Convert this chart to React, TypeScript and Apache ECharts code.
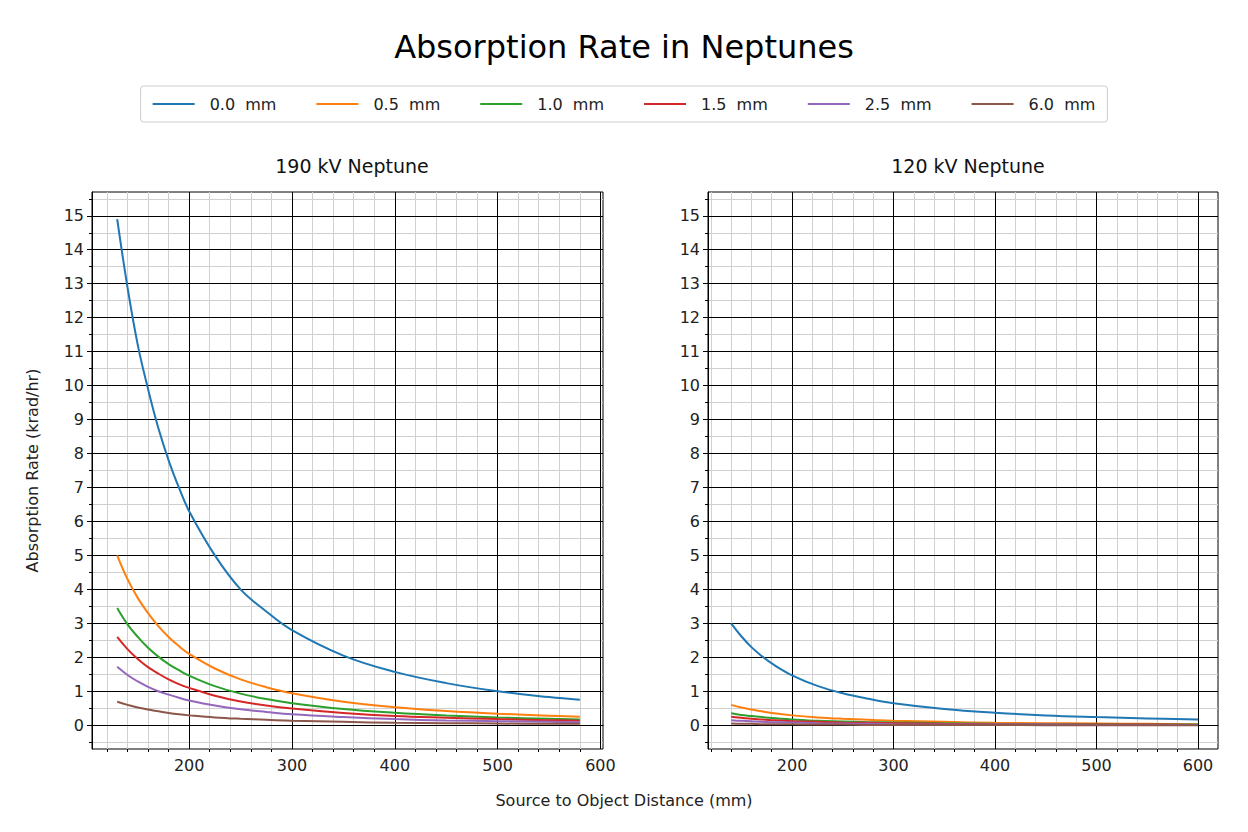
import React, { useEffect, useRef } from "react";
import * as echarts from "echarts";

const names = ["0.0  mm", "0.5  mm", "1.0  mm", "1.5  mm", "2.5  mm", "6.0  mm"];
const colors = ["#1f77b4", "#ff7f0e", "#2ca02c", "#d62728", "#9467bd", "#8c564b"];

const xLeft = [130, 140, 150, 160, 170, 180, 190, 200, 225, 250, 275, 300, 350, 400, 450, 500, 550, 580];
const left00 = [14.9, 12.9, 11.2, 9.9, 8.75, 7.8, 7.0, 6.3, 5.0, 4.0, 3.35, 2.8, 2.05, 1.57, 1.24, 1.0, 0.83, 0.75];
const left05 = [5.0, 4.3, 3.75, 3.3, 2.92, 2.6, 2.33, 2.1, 1.67, 1.35, 1.12, 0.94, 0.69, 0.53, 0.42, 0.34, 0.28, 0.25];
const left10 = [3.45, 2.97, 2.6, 2.28, 2.02, 1.8, 1.62, 1.46, 1.15, 0.93, 0.77, 0.65, 0.48, 0.37, 0.29, 0.23, 0.19, 0.17];
const left15 = [2.6, 2.24, 1.95, 1.71, 1.52, 1.35, 1.21, 1.1, 0.87, 0.7, 0.58, 0.49, 0.36, 0.27, 0.22, 0.18, 0.15, 0.13];
const left25 = [1.72, 1.48, 1.29, 1.13, 1.0, 0.9, 0.81, 0.73, 0.58, 0.47, 0.39, 0.32, 0.24, 0.18, 0.14, 0.12, 0.1, 0.09];
const left60 = [0.69, 0.6, 0.52, 0.46, 0.41, 0.36, 0.32, 0.29, 0.23, 0.19, 0.16, 0.13, 0.1, 0.07, 0.06, 0.05, 0.04, 0.04];

const xRight = [140, 150, 160, 170, 180, 200, 225, 250, 275, 300, 350, 400, 450, 500, 550, 600];
const right00 = [3.0, 2.62, 2.3, 2.04, 1.82, 1.47, 1.16, 0.94, 0.78, 0.65, 0.48, 0.37, 0.29, 0.24, 0.2, 0.17];
const right05 = [0.6, 0.52, 0.46, 0.41, 0.36, 0.29, 0.23, 0.19, 0.16, 0.13, 0.1, 0.07, 0.06, 0.05, 0.04, 0.03];
const right10 = [0.35, 0.3, 0.27, 0.24, 0.21, 0.17, 0.13, 0.11, 0.09, 0.08, 0.06, 0.04, 0.03, 0.03, 0.02, 0.02];
const right15 = [0.25, 0.22, 0.19, 0.17, 0.15, 0.12, 0.1, 0.08, 0.07, 0.06, 0.04, 0.03, 0.02, 0.02, 0.02, 0.01];
const right25 = [0.15, 0.13, 0.12, 0.1, 0.09, 0.08, 0.06, 0.05, 0.04, 0.03, 0.02, 0.02, 0.02, 0.01, 0.01, 0.01];
const right60 = [0.05, 0.04, 0.04, 0.03, 0.03, 0.03, 0.02, 0.02, 0.01, 0.01, 0.01, 0.01, 0.0, 0.0, 0.0, 0.0];

const xMajor = [200, 300, 400, 500, 600];
const xMinorLeft = [120, 140, 160, 180, 220, 240, 260, 280, 320, 340, 360, 380, 420, 440, 460, 480, 520, 540, 560, 580];
const xMinorRight = [120, 140, 160, 180, 220, 240, 260, 280, 320, 340, 360, 380, 420, 440, 460, 480, 520, 540, 560, 580, 620];
const yMajor = [0, 1, 2, 3, 4, 5, 6, 7, 8, 9, 10, 11, 12, 13, 14, 15];
const yMinor = [-0.5, 0.5, 1.5, 2.5, 3.5, 4.5, 5.5, 6.5, 7.5, 8.5, 9.5, 10.5, 11.5, 12.5, 13.5, 14.5, 15.5];

const leftSets = [left00, left05, left10, left15, left25, left60];
const rightSets = [right00, right05, right10, right15, right25, right60];

const FONT = "DejaVu Sans";

export default function App() {
  const ref = useRef<HTMLDivElement>(null);
  useEffect(() => {
    const chart = echarts.init(ref.current!, null, { renderer: "svg" });
    const grids = [
      { left: 92, top: 192, width: 511, height: 557 },
      { left: 708, top: 192, width: 510, height: 557 },
    ];
    const ranges = [[105.5, 602.5], [117.2, 619.7]];
    const xAxis: any[] = [];
    const yAxis: any[] = [];
    [0, 1].forEach((g) => {
      xAxis.push({
        type: "value", gridIndex: g, min: ranges[g][0], max: ranges[g][1], z: 1, position: "bottom",
        axisLine: { show: true, lineStyle: { color: "#000" } },
        axisTick: { show: true, customValues: xMajor, length: 5, lineStyle: { color: "#000" } },
        axisLabel: { customValues: xMajor, color: "#222", fontSize: 16, fontFamily: FONT, margin: 8 },
        splitLine: { show: true, lineStyle: { color: "#000", width: 1 } },
      });
      xAxis.push({
        type: "value", gridIndex: g, min: ranges[g][0], max: ranges[g][1], z: 0, position: "bottom", offset: 0,
        axisLine: { show: false, onZero: false },
        axisTick: { show: true, customValues: g === 0 ? xMinorLeft : xMinorRight, length: 3, lineStyle: { color: "#000" } },
        axisLabel: { show: false, customValues: g === 0 ? xMinorLeft : xMinorRight },
        splitLine: { show: true, lineStyle: { color: "#d0d0d0", width: 1 } },
      });
      yAxis.push({
        type: "value", gridIndex: g, min: -0.7, max: 15.7, z: 1, position: "left",
        axisLine: { show: true, lineStyle: { color: "#000" } },
        axisTick: { show: true, customValues: yMajor, length: 5, lineStyle: { color: "#000" } },
        axisLabel: { customValues: yMajor, color: "#222", fontSize: 16, fontFamily: FONT, margin: 8 },
        splitLine: { show: true, lineStyle: { color: "#000", width: 1 } },
        name: g === 0 ? "Absorption Rate (krad/hr)" : "",
        nameLocation: "middle", nameGap: 52,
        nameTextStyle: { color: "#222", fontSize: 16, fontFamily: FONT },
      });
      yAxis.push({
        type: "value", gridIndex: g, min: -0.7, max: 15.7, z: 0, position: "left", offset: 0,
        axisLine: { show: false, onZero: false },
        axisTick: { show: true, customValues: yMinor, length: 3, lineStyle: { color: "#000" } },
        axisLabel: { show: false, customValues: yMinor },
        splitLine: { show: true, lineStyle: { color: "#d0d0d0", width: 1 } },
      });
    });
    const series: any[] = [];
    names.forEach((n, i) => {
      series.push({
        type: "line", name: n, xAxisIndex: 0, yAxisIndex: 0, smooth: 0.4, showSymbol: false,
        lineStyle: { color: colors[i], width: 2 }, itemStyle: { color: colors[i] }, z: 3,
        data: xLeft.map((x, k) => [x, leftSets[i][k]]),
      });
      series.push({
        type: "line", name: n, xAxisIndex: 2, yAxisIndex: 2, smooth: 0.4, showSymbol: false,
        lineStyle: { color: colors[i], width: 2 }, itemStyle: { color: colors[i] }, z: 3,
        data: xRight.map((x, k) => [x, rightSets[i][k]]),
      });
    });
    chart.setOption({
      animation: false,
      backgroundColor: "#fff",
      title: [
        { text: "Absorption Rate in Neptunes", left: "center", top: 26, textStyle: { fontFamily: FONT, fontSize: 32, fontWeight: "normal", color: "#000" } },
        { text: "190 kV Neptune", left: 347, top: 151, textAlign: "center", textStyle: { fontFamily: FONT, fontSize: 19, fontWeight: "normal", color: "#111" } },
        { text: "120 kV Neptune", left: 963, top: 151, textAlign: "center", textStyle: { fontFamily: FONT, fontSize: 19, fontWeight: "normal", color: "#111" } },
      ],
      legend: {
        data: names, top: 86, left: "center", itemGap: 40, itemWidth: 42, itemHeight: 2, icon: "rect",
        padding: [10, 12], borderColor: "#ccc", borderWidth: 1, borderRadius: 3,
        textStyle: { fontFamily: FONT, fontSize: 16, color: "#222", padding: [0, 0, 0, 10] },
      },
      grid: grids.map((g) => ({ ...g, show: true, borderColor: "#000", borderWidth: 1, backgroundColor: "transparent" })),
      xAxis, yAxis, series,
      graphic: [
        { type: "text", left: "center", top: 792, style: { text: "Source to Object Distance (mm)", fontFamily: FONT, fontSize: 16, fill: "#222" } },
      ],
    });
    return () => chart.dispose();
  }, []);
  return <div ref={ref} style={{ position: "fixed", left: 0, top: 0, width: 1248, height: 832 }} />;
}
